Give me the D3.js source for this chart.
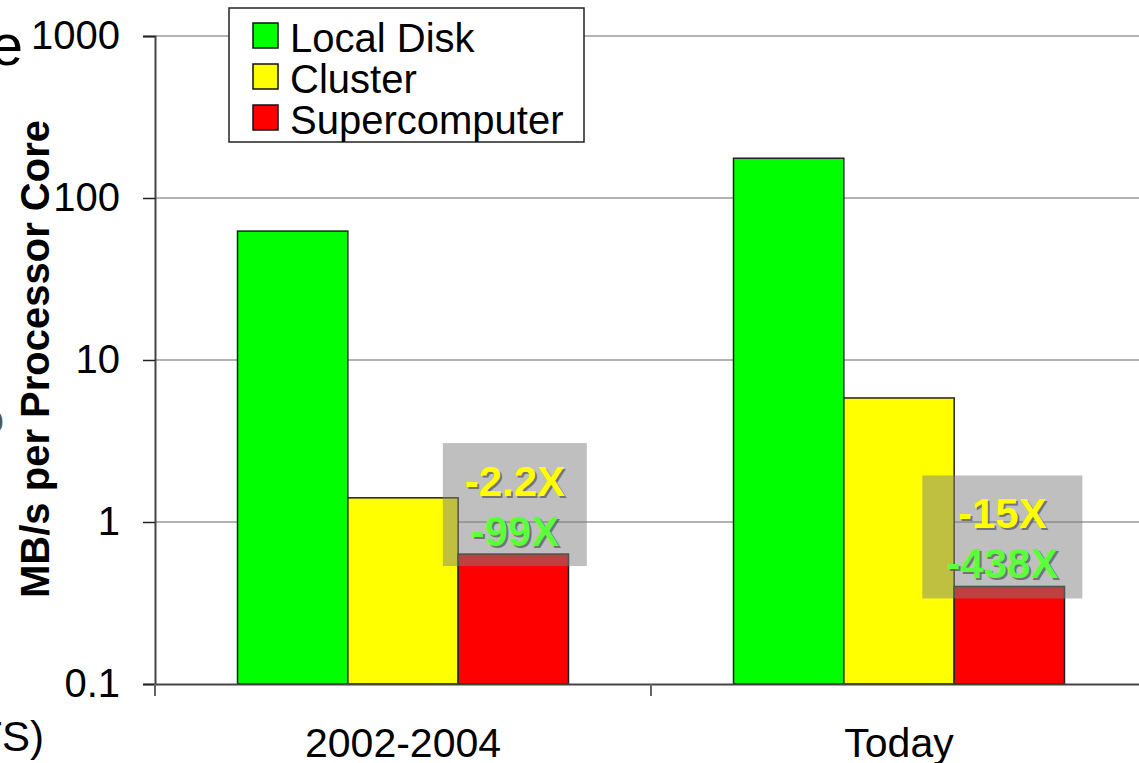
<!DOCTYPE html>
<html>
<head>
<meta charset="utf-8">
<script src="https://cdn.jsdelivr.net/npm/d3@7"></script>
<style>
  body { margin: 0; background: #fff; }
  svg { display: block; font-family: "Liberation Sans", Arial, sans-serif; }
</style>
</head>
<body>
<script>
// chart data
var categories = ["2002-2004", "Today"];
var series = ["Local Disk", "Cluster", "Supercomputer"];
var colors = ["#00ff00", "#ffff00", "#ff0000"];
var localDisk = [62.5, 176];
var cluster = [1.41, 5.83];
var supercomputer = [0.634, 0.40];
var tickValues = [0.1, 1, 10, 100, 1000];
var tickLabels = ["0.1", "1", "10", "100", "1000"];
var clusterGap = ["-2.2X", "-15X"];
var diskGap = ["-99X", "-438X"];

var W = 1139, H = 763;
var plot = {left: 155, right: 1147, top: 36, bottom: 684};

var svg = d3.select("body").append("svg")
    .attr("width", W)
    .attr("height", H);

var x0 = d3.scaleBand().domain(categories).range([plot.left, plot.right]).padding(0);
var x1 = d3.scaleBand().domain(series).range([82.5, 413.5]).padding(0);
var y = d3.scaleLog().domain([0.1, 1000]).range([plot.bottom, plot.top]);

var values = [localDisk, cluster, supercomputer];

// gridlines
svg.append("g")
  .selectAll("line")
  .data(tickValues.slice(1))
  .enter().append("line")
    .attr("x1", plot.left).attr("x2", plot.right)
    .attr("y1", function(d) { return y(d); })
    .attr("y2", function(d) { return y(d); })
    .style("stroke", "#9a9a9a")
    .style("stroke-width", "1.5px");

// bars
var groups = svg.selectAll(".grp")
    .data(categories)
  .enter().append("g")
    .attr("transform", function(d) { return "translate(" + x0(d) + ",0)"; });

groups.selectAll("rect")
    .data(function(d, i) { return series.map(function(s, j) { return {s: s, j: j, v: values[j][i]}; }); })
  .enter().append("rect")
    .attr("x", function(d) { return x1(d.s); })
    .attr("width", x1.bandwidth())
    .attr("y", function(d) { return y(d.v); })
    .attr("height", function(d) { return plot.bottom - y(d.v); })
    .style("fill", function(d) { return colors[d.j]; })
    .style("stroke", "#222")
    .style("stroke-width", "1.5px");

// y axis
var yAxis = d3.axisLeft(y).tickValues(tickValues)
    .tickFormat(function(d, i) { return tickLabels[i]; })
    .tickSize(12).tickPadding(23);
var ya = svg.append("g")
    .attr("transform", "translate(" + plot.left + ",0)")
    .call(yAxis);
ya.select(".domain").style("stroke", "#444").style("stroke-width", "2px");
ya.selectAll(".tick line").style("stroke", "#222").style("stroke-width", "1.5px");
ya.selectAll("text").style("font-size", "40px").style("fill", "#000")
    .style("font-family", "Liberation Sans, Arial, sans-serif");

// x axis
var xAxis = d3.axisBottom(x0).tickSize(0).tickPadding(44);
var xa = svg.append("g")
    .attr("transform", "translate(0," + plot.bottom + ")")
    .call(xAxis);
xa.select(".domain").style("stroke", "#444").style("stroke-width", "2px");
xa.selectAll("text").style("font-size", "41px").style("fill", "#000")
    .style("font-family", "Liberation Sans, Arial, sans-serif");
// category divider ticks
svg.append("g").selectAll("line")
    .data([plot.left].concat(categories.map(function(c) { return x0(c) + x0.bandwidth(); })))
  .enter().append("line")
    .attr("x1", function(d) { return d; }).attr("x2", function(d) { return d; })
    .attr("y1", plot.bottom).attr("y2", plot.bottom + 12)
    .style("stroke", "#666").style("stroke-width", "2px");

// y axis title
svg.append("text")
    .attr("transform", "translate(49,359) rotate(-90)")
    .attr("text-anchor", "middle")
    .style("font-size", "40px")
    .style("font-weight", "bold")
    .text("MB/s per Processor Core");

// cut off slide text at left edge
svg.append("text").attr("x", 23).attr("y", 65).attr("text-anchor", "end")
    .style("font-size", "58px").text("e");
svg.append("text").attr("x", 4).attr("y", 433).attr("text-anchor", "end")
    .style("font-size", "40px").style("fill", "#555").text("o");
svg.append("text").attr("x", 44).attr("y", 751).attr("text-anchor", "end")
    .style("font-size", "42px").text("TS)");

// annotation boxes
var boxW = [144, 160];
var boxDx = [1.5, -7];
var ann = svg.selectAll(".ann")
    .data(categories)
  .enter().append("g")
    .attr("transform", function(d, i) {
      var cx = x0(d) + x1("Supercomputer") + x1.bandwidth() / 2 + boxDx[i];
      return "translate(" + cx + "," + (y(supercomputer[i]) + 12 - 123) + ")";
    });
ann.append("rect")
    .attr("x", function(d, i) { return -boxW[i] / 2; })
    .attr("width", function(d, i) { return boxW[i]; })
    .attr("height", 123)
    .style("fill", "#808080")
    .style("fill-opacity", 0.5);

function label(g, arr, dy, col) {
  g.append("text").attr("x", 2).attr("y", dy + 2).attr("text-anchor", "middle")
    .style("font-size", "42px").style("font-weight", "bold").style("fill", "#555")
    .style("opacity", 0.7)
    .text(function(d, i) { return arr[i]; });
  g.append("text").attr("x", 0).attr("y", dy).attr("text-anchor", "middle")
    .style("font-size", "42px").style("font-weight", "bold").style("fill", col)
    .text(function(d, i) { return arr[i]; });
}
label(ann, clusterGap, 53, "#ffff00");
label(ann, diskGap, 103, "#5cff3c");

// legend
var lg = svg.append("g").attr("transform", "translate(229,8)");
lg.append("rect").attr("width", 355).attr("height", 134)
    .style("fill", "#fff").style("stroke", "#222").style("stroke-width", "1.5px");
var items = lg.selectAll(".item")
    .data(series)
  .enter().append("g")
    .attr("transform", function(d, i) { return "translate(0," + (i * 41) + ")"; });
items.append("rect").attr("x", 24).attr("y", 15).attr("width", 25).attr("height", 25)
    .style("fill", function(d, i) { return colors[i]; })
    .style("stroke", "#111").style("stroke-width", "1.5px");
items.append("text").attr("x", 61).attr("y", 44)
    .style("font-size", "40px")
    .text(function(d) { return d; });
</script>
</body>
</html>
